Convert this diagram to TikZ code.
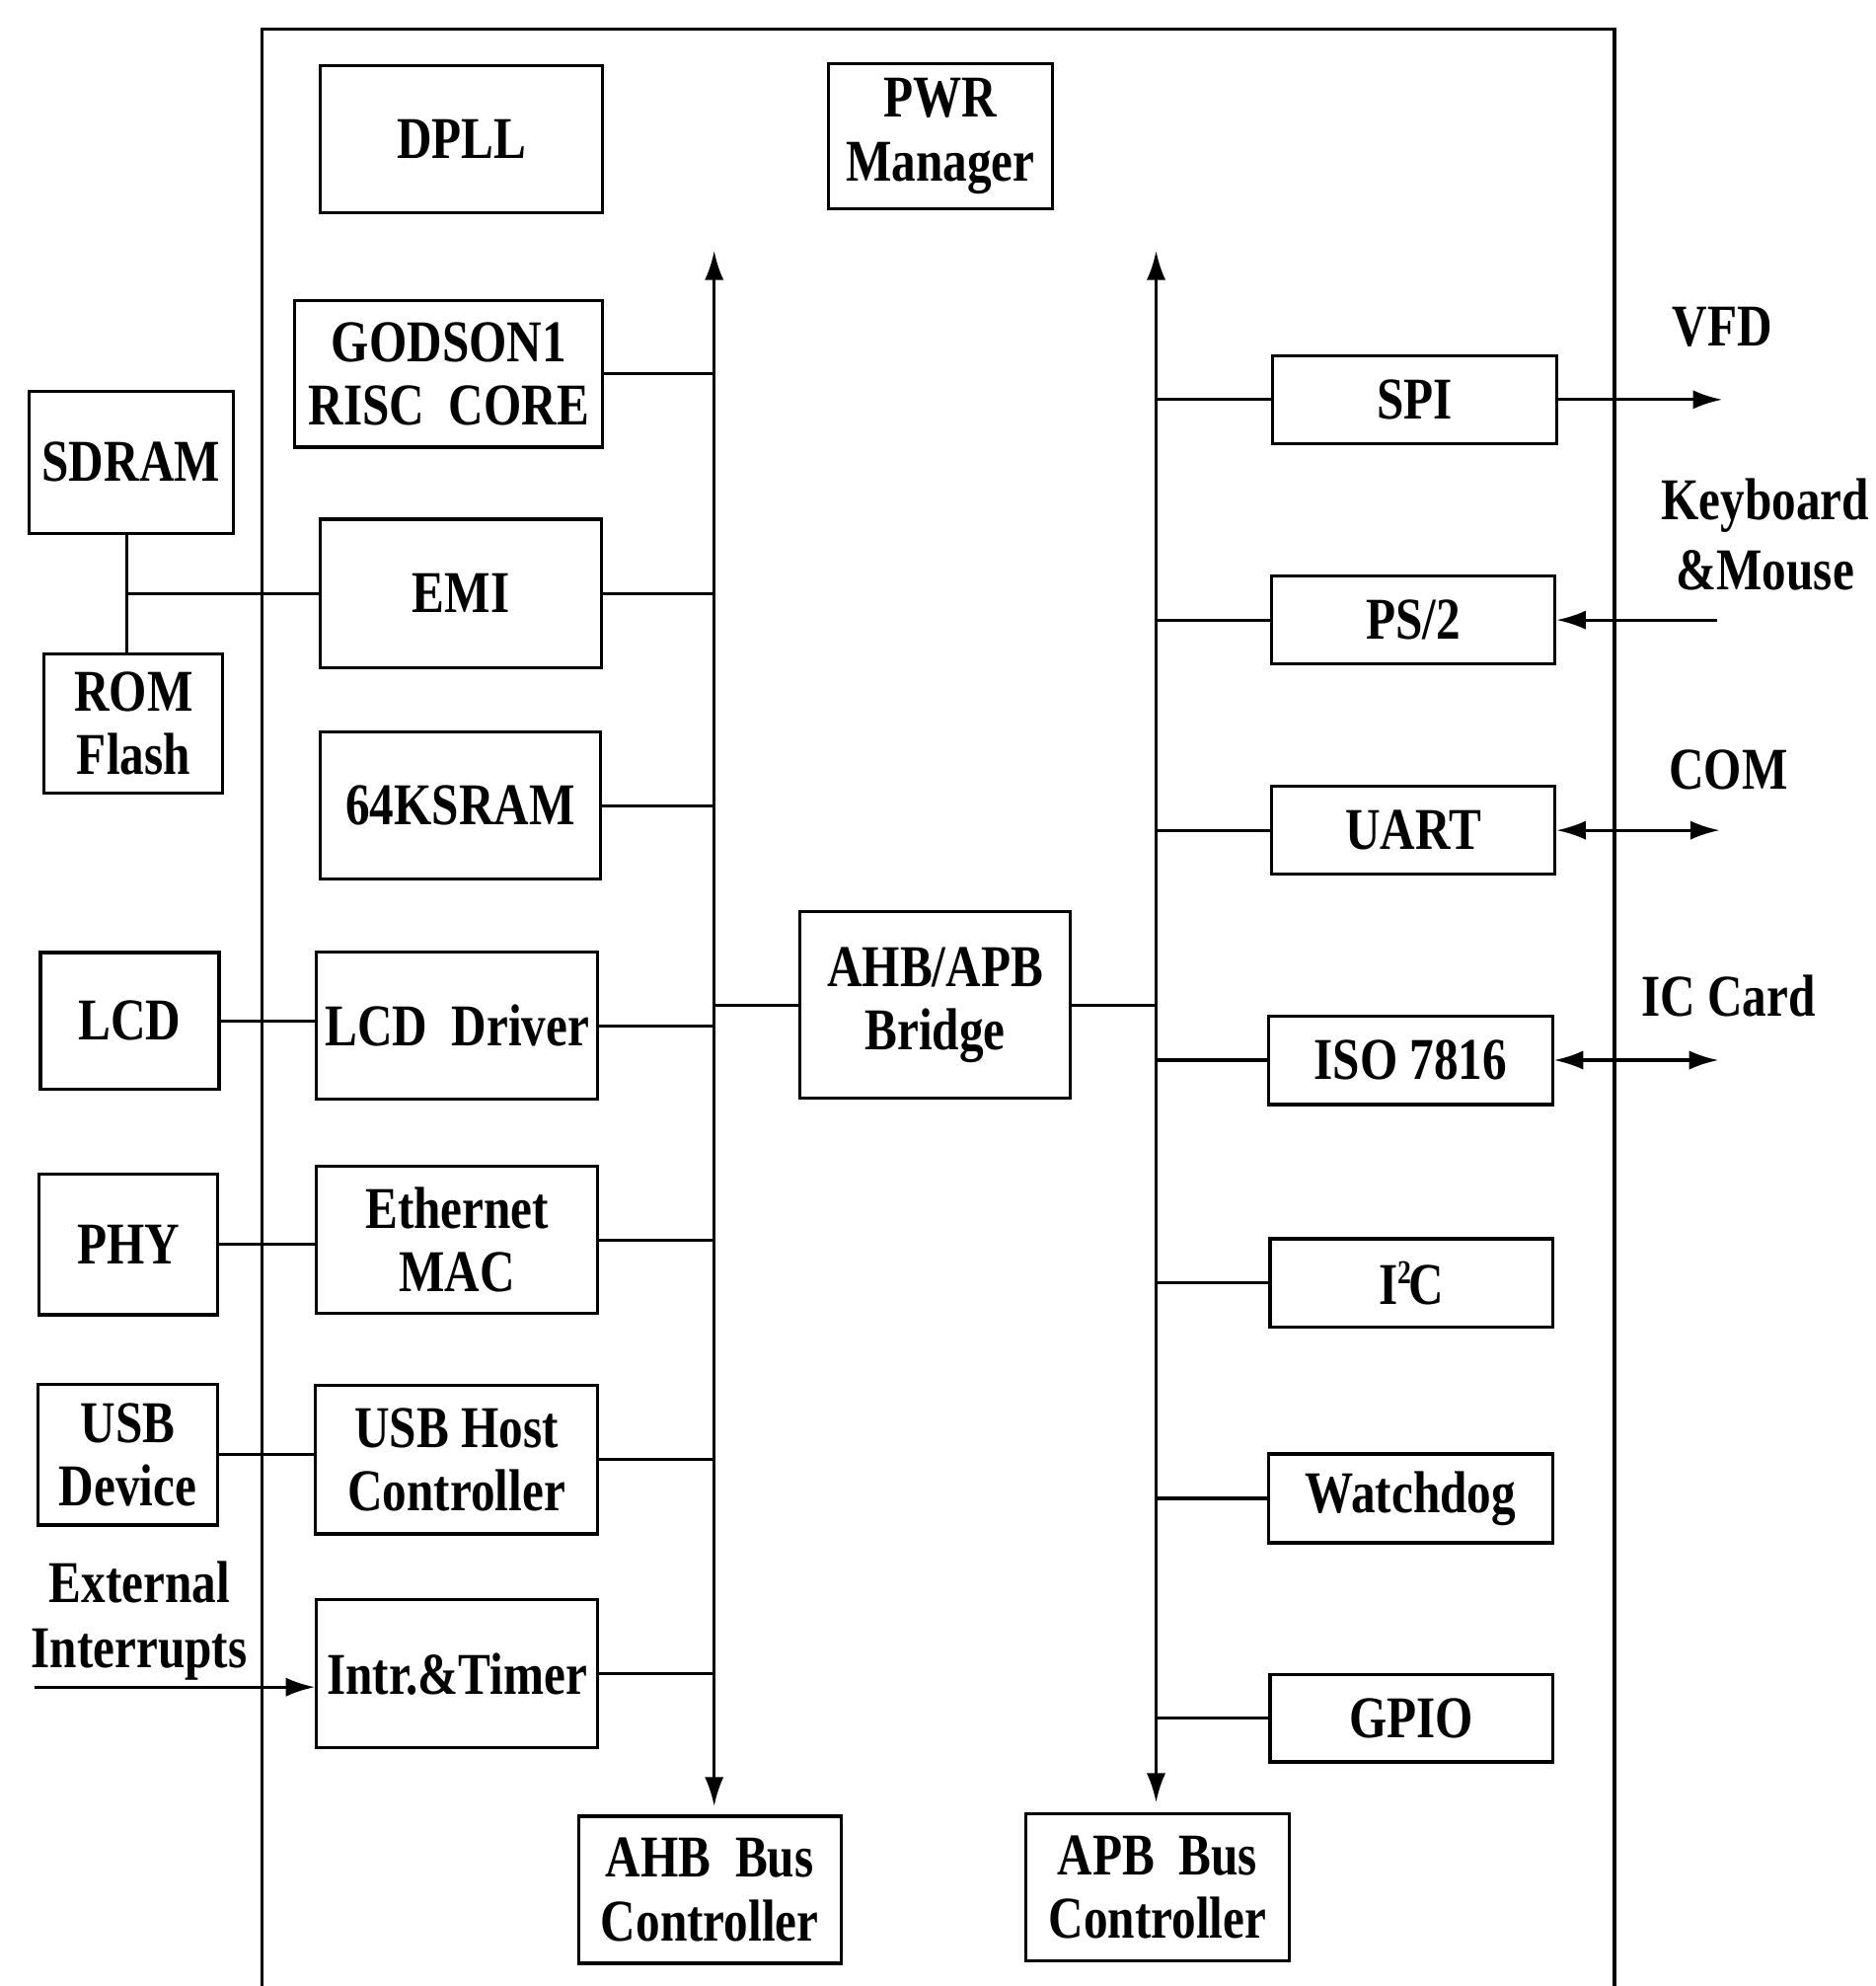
\documentclass[tikz,border=0pt]{standalone}
\usepackage{fontspec}
\setmainfont{Liberation Serif}[FakeStretch=0.82]
\usetikzlibrary{arrows.meta}
\newcommand\dfont{\fontsize{13.3}{14.2}\selectfont\bfseries}
\begin{document}
\begin{tikzpicture}[x=0.01cm,y=-0.01cm,line width=0.7pt,
  box/.style={draw,inner sep=0pt,align=center,font=\dfont},
  lbl/.style={inner sep=0pt,align=center,font=\dfont},
  tip/.style={-{Latex[length=2.3mm,width=1.5mm]}},
  dtip/.style={{Latex[length=2.3mm,width=1.5mm]}-{Latex[length=2.3mm,width=1.5mm]}}]
\useasboundingbox (0,0) rectangle (1481,1568);
% outer frame
\draw (207,1570) -- (207,23) -- (1275,23) -- (1275,1570);

% left column (inside)
\node[box,minimum width=2.23cm,minimum height=1.16cm] (dpll) at (364.5,110) {DPLL};
\node[box,minimum width=2.43cm,minimum height=1.16cm] (godson) at (354.5,295) {GODSON1\\RISC\ \ CORE};
\node[box,minimum width=2.22cm,minimum height=1.17cm] (emi) at (364,468.5) {EMI};
\node[box,minimum width=2.21cm,minimum height=1.16cm] (sram) at (363.5,636) {64KSRAM};
\node[box,minimum width=2.22cm,minimum height=1.16cm] (lcdd) at (361,810) {LCD\ \ Driver};
\node[box,minimum width=2.22cm,minimum height=1.16cm] (eth) at (361,979) {Ethernet\\MAC};
\node[box,minimum width=2.23cm,minimum height=1.17cm] (usbh) at (360.5,1152.5) {USB Host\\Controller};
\node[box,minimum width=2.22cm,minimum height=1.17cm] (intr) at (361,1321.5) {Intr.\&Timer};

% middle
\node[box,minimum width=1.77cm,minimum height=1.15cm] (pwr) at (742.5,107.5) {PWR\\Manager};
\node[box,minimum width=2.13cm,minimum height=1.47cm] (bridge) at (738.5,793.5) {AHB/APB\\Bridge};
\node[box,minimum width=2.07cm,minimum height=1.16cm] (ahbc) at (560.5,1492) {AHB\ \ Bus\\Controller};
\node[box,minimum width=2.08cm,minimum height=1.16cm] (apbc) at (914,1490) {APB\ \ Bus\\Controller};

% right column
\node[box,minimum width=2.24cm,minimum height=0.69cm] (spi) at (1117,315.5) {SPI};
\node[box,minimum width=2.24cm,minimum height=0.69cm] (ps2) at (1116,489.5) {PS/2};
\node[box,minimum width=2.24cm,minimum height=0.69cm] (uart) at (1116,655.5) {UART};
\node[box,minimum width=2.24cm,minimum height=0.70cm] (iso) at (1114,837) {ISO 7816};
\node[box,minimum width=2.23cm,minimum height=0.70cm] (iic) at (1114.5,1013) {I\raisebox{0.75ex}{\fontsize{7.5}{7.5}\selectfont 2}\kern-0.04em C};
\node[box,minimum width=2.24cm,minimum height=0.70cm] (wdg) at (1114,1183) {Watchdog};
\node[box,minimum width=2.23cm,minimum height=0.69cm] (gpio) at (1114.5,1356.5) {GPIO};

% outside left
\node[box,minimum width=1.61cm,minimum height=1.12cm] (sdram) at (103.5,365) {SDRAM};
\node[box,minimum width=1.41cm,minimum height=1.10cm] (rom) at (105.5,571) {ROM\\Flash};
\node[box,minimum width=1.41cm,minimum height=1.08cm] (lcd) at (102.5,806) {LCD};
\node[box,minimum width=1.41cm,minimum height=1.11cm] (phy) at (101.5,982.5) {PHY};
\node[box,minimum width=1.42cm,minimum height=1.11cm] (usbd) at (101,1148.5) {USB\\Device};

% labels
\node[lbl,anchor=base] (vfd) at (1360,273) {VFD};
\node[lbl,anchor=base] (kb) at (1394,410) {Keyboard};
\node[lbl,anchor=base] (ms) at (1394,466) {\&Mouse};
\node[lbl,anchor=base] (com) at (1365,623) {COM};
\node[lbl,anchor=base] (icc) at (1365,802) {IC Card};
\node[lbl,anchor=base] (ext) at (110,1265) {External};
\node[lbl,anchor=base] (intp) at (110,1317) {Interrupts};

% buses
\coordinate (ahbT) at (564,198);
\coordinate (ahbB) at (564,1426);
\coordinate (apbT) at (913,198);
\coordinate (apbB) at (913,1423);
\draw[dtip] (ahbT) -- (ahbB);
\draw[dtip] (apbT) -- (apbB);

% AHB connections
\foreach \n in {godson,emi,sram,lcdd,eth,usbh,intr}
  \draw (\n.east) -- (\n.east -| ahbT);
\draw (bridge.west -| ahbT) -- (bridge.west);
\draw (bridge.east) -- (bridge.east -| apbT);

% APB connections
\foreach \n in {spi,ps2,uart,iso,iic,wdg,gpio}
  \draw (\n.west -| apbT) -- (\n.west);

% external links right
\coordinate (vfdE) at (1360,315.5);
\coordinate (kbS) at (1356,489.5);
\coordinate (comE) at (1358,657);
\coordinate (iccE) at (1357,838);
\draw[tip] (spi.east) -- (spi.east -| vfdE);
\draw[tip] (kbS) -- (ps2.east);
\draw[dtip] (uart.east) -- (uart.east -| comE);
\draw[dtip] (iso.east) -- (iso.east -| iccE);

% external links left
\coordinate (memJ) at (100,468.5);
\draw (sdram.south -| memJ) -- (rom.north -| memJ);
\draw (memJ) -- (emi.west);
\draw (lcd.east) -- (lcd.east -| lcdd.west);
\draw (phy.east) -- (phy.east -| eth.west);
\draw (usbd.east) -- (usbd.east -| usbh.west);
\coordinate (extS) at (27,1332);
\draw[tip] (extS) -- (extS -| intr.west);
\end{tikzpicture}
\end{document}
